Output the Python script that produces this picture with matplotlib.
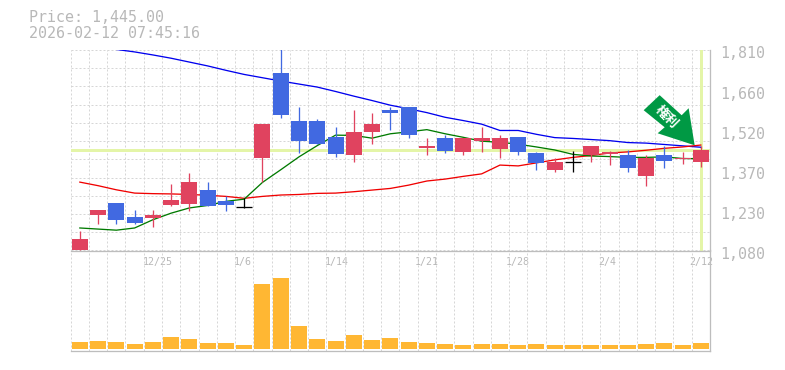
import matplotlib
matplotlib.use("Agg")
import matplotlib.pyplot as plt
from matplotlib.patches import Polygon

# daily candles
opens = [1080, 1210, 1254, 1203, 1199, 1247, 1250, 1301, 1261, 1240, 1418, 1728, 1550, 1553, 1495, 1429, 1510, 1590,
         1604, 1455, 1491, 1440, 1480, 1451, 1495, 1436, 1374, 1402, 1426, 1433, 1426, 1353, 1429, 1412, 1404]
closes = [1123, 1228, 1192, 1181, 1210, 1265, 1331, 1243, 1247, 1240, 1542, 1572, 1480, 1469, 1433, 1510, 1539, 1582,
          1499, 1462, 1444, 1488, 1491, 1491, 1440, 1400, 1404, 1402, 1462, 1440, 1382, 1415, 1407, 1415, 1447]
highs = [1152, 1228, 1254, 1228, 1228, 1323, 1363, 1331, 1280, 1272, 1542, 1815, 1604, 1557, 1531, 1590, 1579, 1604,
         1604, 1488, 1502, 1488, 1528, 1499, 1495, 1440, 1418, 1444, 1462, 1444, 1447, 1426, 1462, 1440, 1462]
lows = [1080, 1177, 1177, 1177, 1166, 1243, 1225, 1243, 1225, 1236, 1331, 1564, 1436, 1469, 1422, 1404, 1466, 1517,
        1488, 1426, 1436, 1429, 1440, 1418, 1426, 1374, 1367, 1367, 1404, 1393, 1367, 1316, 1382, 1396, 1385]

ma_blue = [1812, 1803, 1792, 1780, 1766, 1752, 1736, 1721, 1709, 1697, 1686, 1675, 1659, 1642, 1626, 1609,
           1596, 1582, 1565, 1553, 1540, 1517, 1517, 1503, 1491, 1488, 1484, 1480, 1473, 1471, 1466, 1461, 1456]
ma_red = [1329, 1316, 1301, 1289, 1287, 1286, 1284, 1281, 1277, 1270, 1277, 1282, 1284, 1288, 1289, 1294, 1300, 1306,
          1318, 1333, 1340, 1350, 1359, 1391, 1388, 1399, 1410, 1419, 1426, 1435, 1439, 1445, 1452, 1457, 1464]
ma_green = [1162, 1158, 1154, 1162, 1192, 1216, 1235, 1244, 1259, 1267, 1328, 1374, 1421, 1462, 1500, 1499, 1489, 1505,
            1512, 1520, 1505, 1492, 1478, 1474, 1467, 1457, 1446, 1430, 1424, 1422, 1419, 1419, 1421, 1415, 1414]

volumes = [7000, 8000, 7000, 5000, 7000, 12000, 10000, 6000, 6000, 4000, 65000, 71000, 23000, 10000, 8000, 14000,
           9000, 11000, 7000, 6000, 5000, 4000, 5000, 5000, 4000, 5000, 4000, 4000, 4000, 4000, 4000, 5000, 6000,
           4000, 6000]

y_labels = ["1,080", "1,230", "1,370", "1,520", "1,660", "1,810"]
y_label_vals = [1080, 1226, 1372, 1518, 1664, 1810]
x_labels = ["12/25", "1/6", "1/14", "1/21", "1/28", "2/4", "2/12"]
x_label_pos = [4.25, 8.9, 14.05, 19, 24, 28.9, 34]
last_price = 1445

GRID = "#d6d6d6"
AXIS = "#bdbdbd"
TEXT = "#b8b8b8"
LIME = "#e4f5a8"
UP = "#e0435f"
DOWN = "#4169e1"
VOL = "#ffb733"
MONO = "DejaVu Sans Mono"
PX = 0.72  # one pixel in points at dpi 100

W, H = 785, 370
fig = plt.figure(figsize=(W / 100, H / 100), dpi=100)
ax = fig.add_axes([70.7 / W, (H - 250.5) / H, 639.3 / W, 200.5 / H])
vax = fig.add_axes([70.7 / W, (H - 350.5) / H, 639.3 / W, 100 / H])

n = len(opens)
xs = list(range(n))
grid_x = [i - 0.5 for i in range(n + 1)]
dash = (0, (2, 2))

for a in (ax, vax):
    a.set_xlim(-0.5, n - 0.5)
    a.set_xticks(grid_x)
    a.tick_params(length=0, labelbottom=False, labelleft=False)
    a.grid(True, axis="x", color=GRID, lw=PX, ls=dash)
    a.set_axisbelow(True)
    for s in a.spines.values():
        s.set_visible(False)
    a.patch.set_alpha(0)

# price panel
ax.set_ylim(1080, 1810)
ax.set_yticks([1080 + 730 * k / 11 for k in range(12)])
ax.grid(True, axis="y", color=GRID, lw=PX, ls=dash)
ax.spines["bottom"].set_visible(True)
ax.spines["bottom"].set_color(AXIS)
ax.spines["bottom"].set_linewidth(PX * 1.3)

ax.axhline(last_price, color=LIME, lw=PX * 3, zorder=1.5)
ax.axvline(xs[-1], color=LIME, lw=PX * 3, zorder=1.5)

ax.plot(xs[2:], ma_blue, color="#0000ee", lw=PX * 1.3, zorder=2)
ax.plot(xs, ma_red, color="#f00000", lw=PX * 1.3, zorder=2)
ax.plot(xs, ma_green, color="#007a00", lw=PX * 1.3, zorder=2)

colors = [UP if c > o else DOWN if c < o else "black" for o, c in zip(opens, closes)]
ax.vlines(xs, lows, highs, colors=colors, lw=PX * 1.3, zorder=3)
for x, o, c, col in zip(xs, opens, closes, colors):
    if o == c:
        ax.hlines(o, x - 0.44, x + 0.44, color=col, lw=PX * 1.3, zorder=3)
    else:
        ax.bar(x, c - o, bottom=o, width=0.876, color=col, zorder=3)

for v, t in zip(y_label_vals, y_labels):
    ax.annotate(t, xy=(1, v), xycoords=("axes fraction", "data"), xytext=(10, -4), textcoords="offset pixels",
                family=MONO, fontsize=10.8, color=TEXT, va="center", ha="left", annotation_clip=False)
for p, t in zip(x_label_pos, x_labels):
    ax.annotate(t, xy=(p, 0), xycoords=("data", "axes fraction"), xytext=(0, -12), textcoords="offset pixels",
                family=MONO, fontsize=7.2, color=TEXT, va="center", ha="center", annotation_clip=False)

# signal arrow, offsets in pixels from its tip
tip_x, tip_y = xs[-1] - 0.34, 1463
arrow = [(0, 0), (-6, -37), (-13, -30), (-35, -50), (-51, -35), (-30, -18), (-37, -12)]
arrow_pts = [(tip_x + dx / 18.27, tip_y - dy * 3.65) for dx, dy in arrow]
ax.add_patch(Polygon(arrow_pts, closed=True, color="#009944", lw=0, zorder=5, clip_on=False))
ax.annotate("権利", xy=(tip_x, tip_y), xycoords="data", xytext=(-28, 28), textcoords="offset pixels",
            family=["Noto Sans CJK JP", "DejaVu Sans"], fontsize=9.5, fontweight="bold", color="white", rotation=-45,
            ha="center", va="center", rotation_mode="anchor", zorder=6)

# volume panel
vax.set_ylim(-2000, 98000)
vax.set_yticks([])
vax.bar(xs, volumes, width=0.876, color=VOL, zorder=3)
vax.spines["bottom"].set_visible(True)
vax.spines["right"].set_visible(True)
for side in ("bottom", "right"):
    vax.spines[side].set_color(AXIS)
    vax.spines[side].set_linewidth(PX * 1.3)
ax.spines["right"].set_visible(True)
ax.spines["right"].set_color(AXIS)
ax.spines["right"].set_linewidth(PX * 1.3)

fig.text(29 / W, 1 - 18 / H, "Price: 1,445.00", family=MONO, fontsize=10.8, color=TEXT, va="center")
fig.text(29 / W, 1 - 33 / H, "2026-02-12 07:45:16", family=MONO, fontsize=10.8, color=TEXT, va="center")

fig.savefig("out.png", dpi=100, facecolor="white")
